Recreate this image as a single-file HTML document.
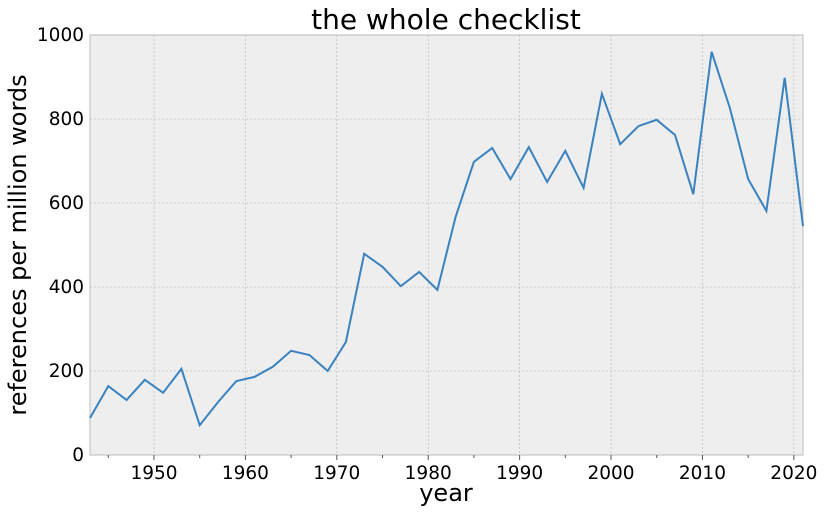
<!DOCTYPE html>
<html><head><meta charset="utf-8"><style>
body{margin:0;background:#fff;}
svg text{font-family:"DejaVu Sans","Liberation Sans",sans-serif;fill:#000;}
</style></head><body>
<svg id="chart" width="826" height="513">
<rect x="90" y="35" width="713" height="420" fill="#eeeeee" stroke="#bcbcbc"/>
<g id="grid"></g><g id="ticks"></g>
<path id="line" fill="none" stroke="#3a82bf" stroke-width="2"/>
<text x="446" y="29" font-size="28" text-anchor="middle">the whole checklist</text>
<text x="446" y="501" font-size="24" text-anchor="middle">year</text>
<text transform="translate(26,245) rotate(-90)" font-size="24" text-anchor="middle">references per million words</text>
</svg>
<script>
const years=[1943,1945,1947,1949,1951,1953,1955,1957,1959,1961,1963,1965,1967,1969,1971,1973,1975,1977,1979,1981,1983,1985,1987,1989,1991,1993,1995,1997,1999,2001,2003,2005,2007,2009,2011,2013,2015,2017,2019,2021];
const values=[88,164,131,179,148,205,71,126,176,186,210,248,238,200,269,479,448,402,436,393,567,698,731,657,733,650,724,636,860,740,783,798,762,621,960,826,657,581,898,545];
const xTicks=[1950,1960,1970,1980,1990,2000,2010,2020];
const yTicks=[0,200,400,600,800,1000];
const NS='http://www.w3.org/2000/svg';
const x=v=>90+(v-1943)*(713/78);
const y=v=>455-v*0.42;
const grid=document.getElementById('grid'),ticks=document.getElementById('ticks');
function mk(tag,attrs,parent){const e=document.createElementNS(NS,tag);for(const k in attrs)e.setAttribute(k,attrs[k]);parent.appendChild(e);return e;}
xTicks.forEach(t=>{
 const g=mk('line',{x1:x(t),x2:x(t),y1:35,y2:455,stroke:'#b2b2b2','stroke-width':0.6,'stroke-dasharray':'2,2'},grid);
 
 
 const tk=mk('line',{x1:x(t),x2:x(t),y1:455,y2:460,stroke:'#555'},ticks);
 
 
 const l=mk('text',{x:x(t),y:479,'font-size':18.5,'text-anchor':'middle'},ticks);l.textContent=t;
 
 
});
for(let t=1945;t<=2020;t+=10){const m=mk('line',{x1:x(t),x2:x(t),y1:455,y2:458,stroke:'#555'},ticks);
 
 }
yTicks.forEach(t=>{
 const g=mk('line',{x1:90,x2:803,y1:y(t),y2:y(t),stroke:'#b2b2b2','stroke-width':0.6,'stroke-dasharray':'2,2'},grid);
 
 
 const l=mk('text',{x:84,y:y(t)+6,'font-size':18.5,'text-anchor':'end'},ticks);l.textContent=t;
 
 
});
document.getElementById('line').setAttribute('d',years.map((v,i)=>(i?'L':'M')+x(v).toFixed(1)+','+y(values[i]).toFixed(1)).join(''));
</script>
</body></html>
